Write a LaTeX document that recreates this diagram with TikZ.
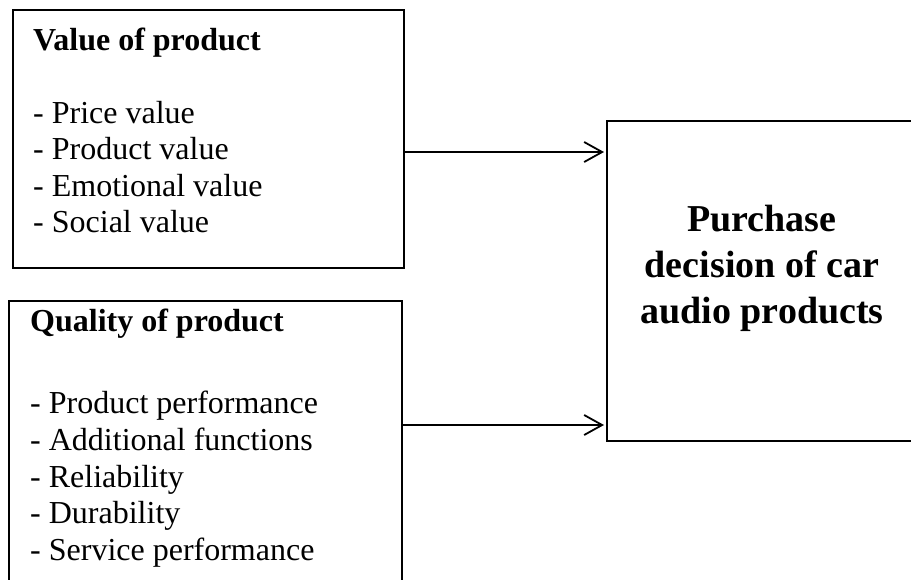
\documentclass[tikz,border=0pt]{standalone}
\usepackage{fontspec}
\setmainfont{Liberation Serif}
\usetikzlibrary{arrows.meta}

\begin{document}
\begin{tikzpicture}[x=1pt,y=-1pt,
  frame/.style={draw=black, line width=1.7pt, rectangle, inner sep=0pt,
    outer sep=0pt, anchor=north west},
  head/.style={anchor=base west, inner sep=0pt, font=\fontsize{32}{36}\selectfont\bfseries},
  item/.style={anchor=base west, inner sep=0pt, font=\fontsize{32}{36}\selectfont},
  goal/.style={anchor=base, inner sep=0pt, font=\fontsize{38}{46}\selectfont\bfseries},
  link/.style={line width=1.8pt, -{Straight Barb[length=18pt,width=20pt,line width=1.8pt]},
    shorten >=3pt}
]
\useasboundingbox (0,0) rectangle (911,579);

% three boxes (the lower-left and right ones run past the page edge)
\node[frame, minimum width=391pt, minimum height=258pt] (vbox) at (13,10) {};
\node[frame, minimum width=393pt, minimum height=300pt] (qbox) at (9,301) {};
\node[frame, minimum width=330pt, minimum height=320pt] (pbox) at (607,121) {};

% value of product
\node[head] (vh) at (33,50) {Value of product};
\node[item] (v1) at (33,123) {- Price value};
\node[item] (v2) at (33,159) {- Product value};
\node[item] (v3) at (33,196) {- Emotional value};
\node[item] (v4) at (33,232) {- Social value};

% quality of product
\node[head] (qh) at (30,331) {Quality of product};
\node[item] (q1) at (30,413) {- Product performance};
\node[item] (q2) at (30,450) {- Additional functions};
\node[item] (q3) at (30,487) {- Reliability};
\node[item] (q4) at (30,523) {- Durability};
\node[item] (q5) at (30,560) {- Service performance};

% outcome
\node[goal] (p1) at (762,231) {Purchase};
\node[goal] (p2) at (762,277) {decision of car};
\node[goal] (p3) at (762,323) {audio products};

% connectors
\coordinate (ya) at (0,152);
\coordinate (yb) at (0,425);
\draw[link] (vbox.east |- ya) -- (pbox.west |- ya);
\draw[link] (qbox.east |- yb) -- (pbox.west |- yb);
\end{tikzpicture}
\end{document}
